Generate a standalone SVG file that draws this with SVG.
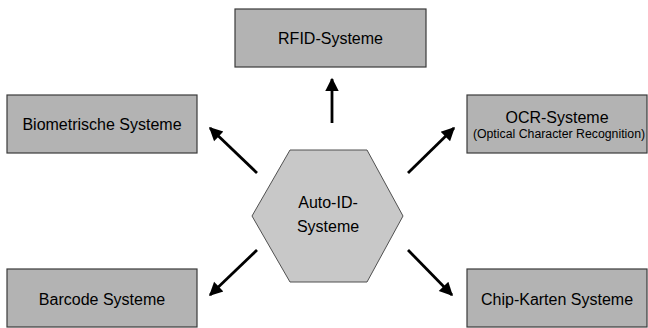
<svg xmlns="http://www.w3.org/2000/svg" width="648" height="328" viewBox="0 0 648 328">
<style>
.box{fill:#b3b3b3;stroke:#3a3a3a;stroke-width:1.2}
.hex{fill:#c8c8c8;stroke:#505050;stroke-width:1}
text{font-family:"Liberation Sans",Arial,sans-serif;fill:#000;text-anchor:middle}
.t{font-size:16px}
.s{font-size:12.3px}
.arr{stroke:#000;stroke-width:2.8;fill:none;marker-end:url(#ah)}
</style>
<defs>
<marker id="ah" viewBox="0 0 10 10" refX="9" refY="5" markerWidth="6.5" markerHeight="4.8" markerUnits="strokeWidth" orient="auto">
<path d="M0,0 L10,5 L0,10 z" fill="#000"/>
</marker>
</defs>
<rect width="648" height="328" fill="#fff"/>
<g id="connectors">
<line class="arr" x1="332" y1="123" x2="332" y2="79"/>
<line class="arr" x1="257" y1="173" x2="210" y2="128"/>
<line class="arr" x1="408" y1="173" x2="454" y2="128"/>
<line class="arr" x1="257" y1="250" x2="210" y2="295"/>
<line class="arr" x1="408" y1="250" x2="452" y2="295"/>
</g>
<g id="rfid">
<rect class="box" x="235" y="9" width="191" height="58"/>
<text class="t" x="330.5" y="44">RFID-Systeme</text>
</g>
<g id="biometrische">
<rect class="box" x="7" y="95" width="190" height="58"/>
<text class="t" x="102" y="130">Biometrische Systeme</text>
</g>
<g id="ocr">
<rect class="box" x="467" y="95" width="180" height="58"/>
<text class="t" x="557" y="123">OCR-Systeme</text>
<text class="s" x="559" y="138">(Optical Character Recognition)</text>
</g>
<g id="auto-id">
<polygon class="hex" points="252,216 290,150 367,150 403,216 367,282 290,282"/>
<text class="t" x="328" y="208">Auto-ID-</text>
<text class="t" x="328" y="232">Systeme</text>
</g>
<g id="barcode">
<rect class="box" x="7" y="269" width="190" height="58"/>
<text class="t" x="102" y="305">Barcode Systeme</text>
</g>
<g id="chip">
<rect class="box" x="467" y="269" width="180" height="58"/>
<text class="t" x="557" y="305">Chip-Karten Systeme</text>
</g>
</svg>
